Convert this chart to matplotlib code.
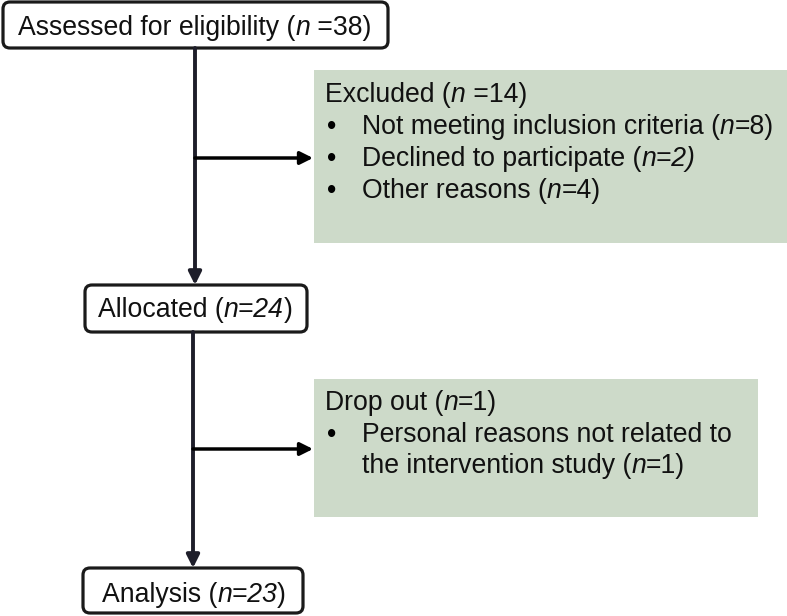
import matplotlib
matplotlib.use('Agg')
import matplotlib.pyplot as plt
from matplotlib.patches import FancyBboxPatch, Rectangle

plt.rcParams['font.family'] = ['Liberation Sans', 'DejaVu Sans']

# text of each box, as runs of (text, italic)
assessed = [('Assessed for eligibility (', False), ('n', True), (' =38)', False)]
allocated = [('Allocated (', False), ('n=24', True), (')', False)]
analysis = [('Analysis (', False), ('n=23', True), (')', False)]
excl_head = [('Excluded (', False), ('n', True), (' =14)', False)]
excl_items = [
    [('Not meeting inclusion criteria (', False), ('n', True), ('=8)', False)],
    [('Declined to participate (', False), ('n=2)', True)],
    [('Other reasons (', False), ('n', True), ('=4)', False)],
]
drop_head = [('Drop out (', False), ('n', True), ('=1)', False)]
drop_items = [
    [('Personal reasons not related to', False)],
    [('the intervention study (', False), ('n', True), ('=1)', False)],
]

W, H = 787, 616
fig = plt.figure(figsize=(W / 100, H / 100), dpi=100)
ax = fig.add_axes([0, 0, 1, 1])
ax.set_xlim(0, W)
ax.set_ylim(H, 0)
ax.axis('off')
renderer = fig.canvas.get_renderer()

FS = 19.2
GREEN = '#cddac9'
DARK = '#1e1e2a'


def runs(x, y, parts):
    for s, it in parts:
        t = ax.text(x, y, s, fontsize=FS, style='italic' if it else 'normal',
                    ha='left', va='baseline', color='#111111')
        bb = t.get_window_extent(renderer)
        x += bb.width


def box(x0, y0, x1, y1):
    ax.add_patch(FancyBboxPatch((x0, y0), x1 - x0, y1 - y0,
                                boxstyle='round,pad=0,rounding_size=7',
                                fc='white', ec='#1a1a1a', lw=2.3))


def green(x0, y0, x1, y1):
    ax.add_patch(Rectangle((x0, y0), x1 - x0, y1 - y0, fc=GREEN, ec='none'))


def arrow(x0, y0, x1, y1, color, lw):
    ax.annotate('', xy=(x1, y1), xytext=(x0, y0),
                arrowprops=dict(arrowstyle='-|>', lw=lw, color=color,
                                mutation_scale=19, shrinkA=0, shrinkB=0))


# main boxes
box(3, 2, 388, 48)
runs(18, 35, assessed)
box(85, 285, 307, 332)
runs(98, 317, allocated)
box(83, 568, 303, 613)
runs(102, 602, analysis)

# side boxes
green(314, 70, 787, 243)
runs(325, 102, excl_head)
for i, item in enumerate(excl_items):
    ax.text(332, 134 + 32 * i, '•', fontsize=FS, ha='center', va='baseline')
    runs(362, 134 + 32 * i, item)

green(314, 379, 758, 517)
runs(325, 410, drop_head)
ax.text(332, 442, '•', fontsize=FS, ha='center', va='baseline')
for i, item in enumerate(drop_items):
    runs(362, 442 + 31 * i, item)

# connectors
arrow(195, 48, 195, 285, DARK, 2.8)
arrow(195, 158, 313, 158, 'black', 2.5)
arrow(193, 332, 193, 568, DARK, 2.8)
arrow(193, 449, 313, 449, 'black', 2.5)

fig.savefig('out.png', dpi=100)
